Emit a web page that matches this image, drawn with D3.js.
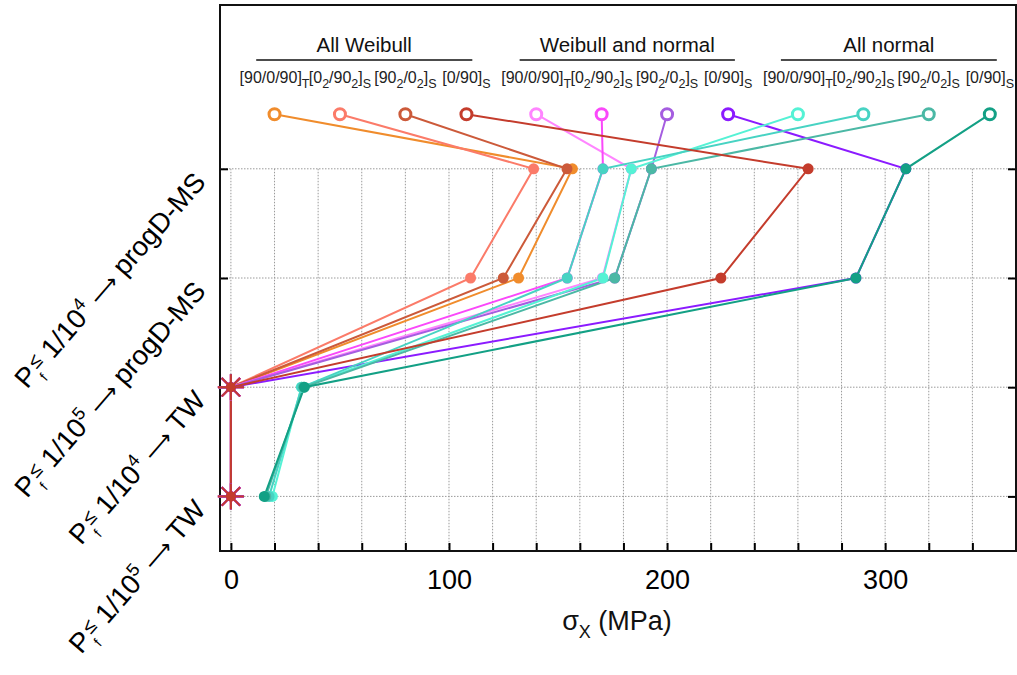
<!DOCTYPE html>
<html>
<head>
<meta charset="utf-8">
<script src="https://cdn.jsdelivr.net/npm/d3@7"></script>
<style>
  body { margin: 0; background: #fff; }
  svg { display: block; font-family: "Liberation Sans", Arial, sans-serif; }
</style>
</head>
<body>
<svg id="chart" width="1017" height="675"></svg>
<script>
// level rows (y value), bottom to top of the tick labels
const levelValues = [4, 3, 2, 1];
const levelProb = ["4", "5", "4", "5"];
const levelTarget = ["progD-MS", "progD-MS", "TW", "TW"];

// group headers, spans in MPa
const groupNames = ["All Weibull", "Weibull and normal", "All normal"];
const groupFrom = [11.6, 132.4, 252.2];
const groupTo = [110.7, 231.1, 351.2];

// layup labels, _{..} is a subscript
const layups = ["[90/0/90]_{T}", "[0_{2}/90_{2}]_{S}", "[90_{2}/0_{2}]_{S}", "[0/90]_{S}"];

const seriesColors = [
  "#f08c2c", "#fb7b69", "#cc5a3a", "#c43c2c",
  "#ff85ff", "#fa48fa", "#a55de0", "#8b1bff",
  "#55f2d5", "#47d3c3", "#4bb8a5", "#13a085"
];
// x position of the open start circle
const startX = [20, 50, 80, 108, 140, 170, 200, 228, 260, 290, 320, 348];
// sigma_x at each level
const valL4 = [156.6, 138.8, 154.1, 264.7, 183.6, 170.6, 192.8, 309.5, 183.6, 170.6, 192.8, 309.5];
const valL3 = [131.9, 109.9, 124.9, 224.7, 170.3, 154.2, 176.0, 286.6, 170.6, 154.2, 176.0, 286.6];
const valL2 = [0, 0, 0, 0, 0, 0, 0, 0, 32.3, 32.5, 33.3, 33.7];
const valL1 = [0, 0, 0, 0, 0, 0, 0, 0, 19.0, 17.5, 16.0, 15.3];

const drawOrder = [0, 1, 2, 4, 5, 6, 7, 8, 9, 10, 11, 3];

const xTicks = d3.range(0, 341, 20);

function draw() {
  const svg = d3.select("#chart");
  const left = 220, right = 1016, top = 5, bottom = 551;

  const x = d3.scaleLinear().domain([-5, 360]).range([left, right]);
  const y = d3.scaleLinear().domain([0.5, 5.5]).range([bottom, top]);

  // grid
  const grid = svg.append("g")
    .attr("stroke", "#9a9a9a")
    .attr("stroke-width", 1)
    .attr("stroke-dasharray", "1.5,1.5");
  grid.selectAll("line.v").data(xTicks).enter().append("line")
    .attr("x1", d => x(d)).attr("x2", d => x(d))
    .attr("y1", y(4)).attr("y2", bottom);
  grid.selectAll("line.h").data(levelValues).enter().append("line")
    .attr("x1", left).attr("x2", right)
    .attr("y1", d => y(d)).attr("y2", d => y(d));

  // axes
  const xAxis = svg.append("g")
    .attr("transform", `translate(0,${bottom})`)
    .call(d3.axisBottom(x).tickValues(xTicks).tickSize(-8).tickPadding(19)
      .tickFormat(d => d % 100 === 0 ? d : ""));
  xAxis.select(".domain").remove();
  xAxis.selectAll(".tick line").attr("stroke", "#000").attr("stroke-width", 2);
  xAxis.selectAll(".tick text").filter(d => d % 100 !== 0).remove();
  xAxis.selectAll(".tick text").attr("font-size", 27).attr("fill", "#000")
    .attr("font-family", "Liberation Sans, Arial, sans-serif");

  const yl = svg.append("g").attr("transform", `translate(${left},0)`)
    .call(d3.axisLeft(y).tickValues(levelValues).tickSize(-8));
  const yr = svg.append("g").attr("transform", `translate(${right},0)`)
    .call(d3.axisRight(y).tickValues(levelValues).tickSize(-8));
  [yl, yr].forEach(g => {
    g.select(".domain").remove();
    g.selectAll(".tick text").remove();
    g.selectAll(".tick line").attr("stroke", "#000").attr("stroke-width", 2);
  });

  // frame
  svg.append("rect")
    .attr("x", left).attr("y", top)
    .attr("width", right - left).attr("height", bottom - top)
    .attr("fill", "none").attr("stroke", "#111").attr("stroke-width", 2);

  // group headers
  const head = svg.append("g");
  groupNames.forEach((name, i) => {
    head.append("line")
      .attr("x1", x(groupFrom[i])).attr("x2", x(groupTo[i]))
      .attr("y1", 60).attr("y2", 60)
      .attr("stroke", "#111").attr("stroke-width", 1.6);
    head.append("text")
      .attr("x", (x(groupFrom[i]) + x(groupTo[i])) / 2)
      .attr("y", 52)
      .attr("text-anchor", "middle")
      .attr("font-size", 20.5)
      .attr("fill", "#111")
      .text(name);
  });

  // layup labels above each start circle
  startX.forEach((sx, i) => {
    const t = svg.append("text")
      .attr("x", x(sx)).attr("y", 83)
      .attr("text-anchor", "middle")
      .attr("font-size", 16)
      .attr("fill", "#222");
    const parts = layups[i % 4].split(/(_\{[^}]*\})/).filter(p => p.length);
    let down = false;
    parts.forEach(p => {
      if (p.startsWith("_{")) {
        t.append("tspan").attr("dy", 5).attr("font-size", 12.5).text(p.slice(2, -1));
        down = true;
      } else {
        t.append("tspan").attr("dy", down ? -5 : 0).text(p);
        down = false;
      }
    });
  });

  // series lines
  const line = d3.line().x(d => x(d[0])).y(d => y(d[1]));
  const seriesPts = startX.map((sx, i) => [
    [sx, 4.5], [valL4[i], 4], [valL3[i], 3], [valL2[i], 2], [valL1[i], 1]
  ]);

  const lines = svg.append("g").attr("fill", "none").attr("stroke-width", 2);
  drawOrder.forEach(i => {
    lines.append("path")
      .attr("d", line(seriesPts[i]))
      .attr("stroke", seriesColors[i]);
  });

  // markers
  const marks = svg.append("g");
  drawOrder.forEach(i => {
    const c = seriesColors[i];
    const pts = seriesPts[i];
    marks.append("circle")
      .attr("cx", x(pts[0][0])).attr("cy", y(pts[0][1]))
      .attr("r", 5.5).attr("fill", "#fff")
      .attr("stroke", c).attr("stroke-width", 3);
    pts.slice(1).forEach(p => {
      if (p[0] === 0) {
        const g = marks.append("g")
          .attr("transform", `translate(${x(p[0])},${y(p[1])})`)
          .attr("stroke", c).attr("stroke-width", 2);
        [0, 45, 90, 135].forEach(a => {
          const r = 13, rad = a * Math.PI / 180;
          g.append("line")
            .attr("x1", -r * Math.cos(rad)).attr("y1", -r * Math.sin(rad))
            .attr("x2", r * Math.cos(rad)).attr("y2", r * Math.sin(rad));
        });
        g.append("circle").attr("r", 5).attr("fill", c).attr("stroke", "none");
      } else {
        marks.append("circle")
          .attr("cx", x(p[0])).attr("cy", y(p[1]))
          .attr("r", 5.5).attr("fill", c);
      }
    });
  });

  // y labels, rotated
  levelValues.forEach((lv, i) => {
    const ax = 207, ay = y(lv) + 14;
    const t = svg.append("text")
      .attr("transform", `translate(${ax},${ay}) rotate(-49)`)
      .attr("text-anchor", "end")
      .attr("font-size", 27.5)
      .attr("fill", "#000");
    t.append("tspan").text("P");
    t.append("tspan").attr("font-size", 14).attr("dy", 9).text("f");
    t.append("tspan").attr("font-size", 20).attr("dx", -1).attr("dy", -15).text("\u2264");
    t.append("tspan").attr("dy", 6).text(" 1/10");
    t.append("tspan").attr("font-size", 18).attr("dy", -11).text(levelProb[i]);
    t.append("tspan").attr("dy", 11).attr("font-family", "DejaVu Sans").attr("font-size", 22).text(" \u27f6 ");
    t.append("tspan").text(levelTarget[i]);
  });

  // x title
  const xt = svg.append("text")
    .attr("x", 617).attr("y", 630)
    .attr("text-anchor", "middle")
    .attr("font-size", 27)
    .attr("fill", "#111");
  xt.append("tspan").text("\u03c3");
  xt.append("tspan").attr("font-size", 18).attr("dy", 8).text("X");
  xt.append("tspan").attr("dy", -8).text(" (MPa)");
}

draw();
</script>
</body>
</html>
